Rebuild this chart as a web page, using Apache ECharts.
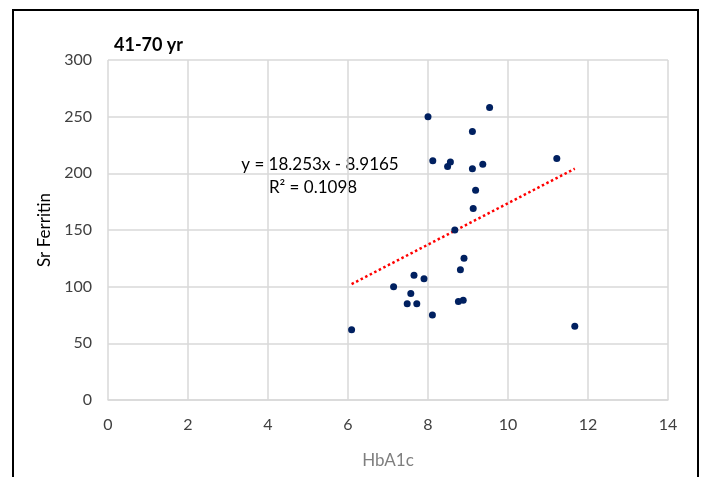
<!DOCTYPE html>
<html>
<head>
<meta charset="utf-8">
<script src="https://cdn.jsdelivr.net/npm/echarts@6/dist/echarts.min.js"></script>
<style>
  html, body { margin: 0; padding: 0; background: #fff; }
  #chart { width: 705px; height: 477px; }
</style>
</head>
<body>
<div id="chart"></div>
<script>
// HbA1c (x) against serum ferritin (y), age group 41-70 yr
const hba1c = [8.0, 9.54, 9.11, 8.12, 8.49, 8.56, 9.11, 9.37, 11.22, 9.19, 9.13, 8.67,
               8.9, 8.81, 7.65, 7.9, 7.14, 7.57, 7.48, 7.72, 8.76, 8.88, 8.11, 6.09, 11.67];
const ferritin = [250, 258, 237, 211, 206, 210, 204, 208, 213, 185, 169, 150,
                  125, 115, 110, 107, 100, 94, 85, 85, 87, 88, 75, 62, 65];

// Linear trend line coefficients
const slope = 18.253;
const intercept = -8.9165;
const rSquared = 0.1098;

const xTicks = [0, 2, 4, 6, 8, 10, 12, 14];
const yTicks = [0, 50, 100, 150, 200, 250, 300];

const points = hba1c.map((x, i) => [x, ferritin[i]]);
const xMin = Math.min(...hba1c);
const xMax = Math.max(...hba1c);
const trend = [[xMin, slope * xMin + intercept], [xMax, slope * xMax + intercept]];

const fontFam = 'Lato, "Open Sans", sans-serif';
const chart = echarts.init(document.getElementById('chart'));

chart.setOption({
  animation: false,
  title: {
    text: '41-70 yr',
    left: 109, top: 31,
    textStyle: { fontFamily: fontFam, fontSize: 18, fontWeight: 'bold', color: '#000' }
  },
  grid: { left: 108, right: 37, top: 60, bottom: 77 },
  xAxis: {
    type: 'value', min: xTicks[0], max: xTicks[xTicks.length - 1], interval: 2,
    name: 'HbA1c', nameLocation: 'middle', nameGap: 52,
    nameTextStyle: { fontFamily: fontFam, fontSize: 17, color: '#7f7f7f' },
    axisLine: { show: true, lineStyle: { color: '#d9d9d9', width: 1.5 } },
    axisTick: { show: false },
    axisLabel: { fontFamily: fontFam, fontSize: 16, color: '#404040', margin: 17 },
    splitLine: { show: true, lineStyle: { color: '#d9d9d9', width: 1.5 } }
  },
  yAxis: {
    type: 'value', min: yTicks[0], max: yTicks[yTicks.length - 1], interval: 50,
    name: 'Sr Ferritin', nameLocation: 'middle', nameGap: 51,
    nameTextStyle: { fontFamily: fontFam, fontSize: 17, color: '#000' },
    axisLine: { show: false },
    axisTick: { show: false },
    axisLabel: { fontFamily: fontFam, fontSize: 16, color: '#404040', margin: 16 },
    splitLine: { show: true, lineStyle: { color: '#d9d9d9', width: 1.5 } }
  },
  series: [
    {
      type: 'line',
      data: trend,
      symbol: 'none',
      silent: true,
      lineStyle: { color: '#ff0000', width: 2.5, type: [2.5, 2.6] },
      z: 2
    },
    {
      type: 'scatter',
      data: points,
      symbol: 'circle',
      symbolSize: 7,
      itemStyle: { color: '#002060', opacity: 1 },
      z: 3
    }
  ],
  graphic: [
    {
      type: 'rect',
      shape: { x: 13, y: 10, width: 685, height: 490 },
      style: { fill: 'none', stroke: '#000', lineWidth: 2 },
      silent: true
    },
    {
      type: 'text',
      x: 320, y: 165,
      style: {
        text: 'y = ' + slope + 'x - ' + Math.abs(intercept),
        fontFamily: fontFam, fontSize: 17, fill: '#000',
        align: 'center', verticalAlign: 'middle'
      }
    },
    {
      type: 'text',
      x: 313, y: 188,
      style: {
        text: 'R² = ' + rSquared,
        fontFamily: fontFam, fontSize: 17, fill: '#000',
        align: 'center', verticalAlign: 'middle'
      }
    }
  ]
});
</script>
</body>
</html>
